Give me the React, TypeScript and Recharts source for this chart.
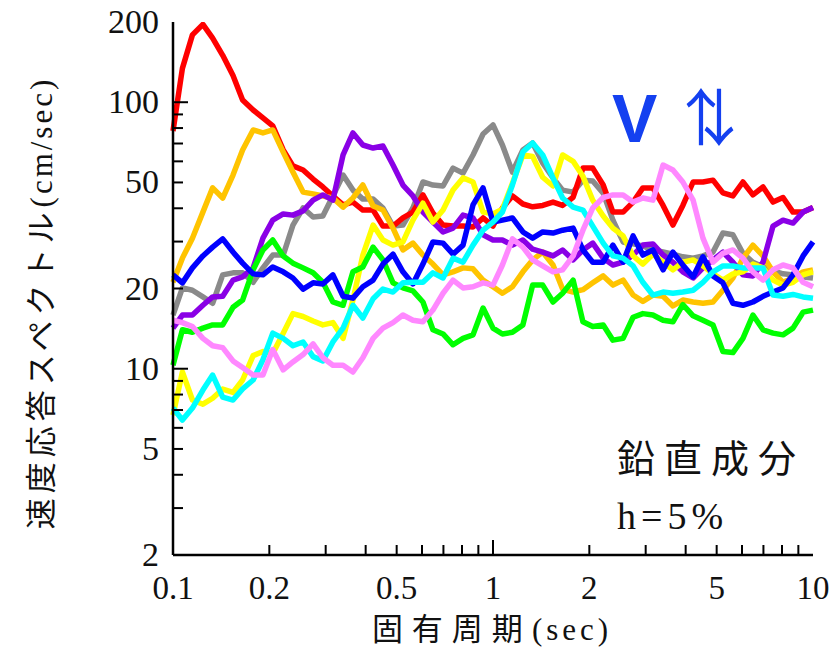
import React from 'react';
import { LineChart, Line, XAxis, YAxis } from 'recharts';

// natural period (sec), log spaced
const PERIODS = [
  0.1, 0.107, 0.115, 0.124, 0.133, 0.143, 0.154, 0.165, 0.178, 0.191,
  0.205, 0.221, 0.237, 0.255, 0.274, 0.294, 0.316, 0.34, 0.365, 0.392,
  0.422, 0.453, 0.487, 0.523, 0.562, 0.604, 0.649, 0.698, 0.75, 0.806,
  0.866, 0.931, 1, 1.07, 1.15, 1.24, 1.33, 1.43, 1.54, 1.65,
  1.78, 1.91, 2.05, 2.21, 2.37, 2.55, 2.74, 2.94, 3.16, 3.4,
  3.65, 3.92, 4.22, 4.53, 4.87, 5.23, 5.62, 6.04, 6.49, 6.98,
  7.5, 8.06, 8.66, 9.31, 10,
];

// velocity response (cm/sec), one array per record
const RED = [
  78, 134, 179, 196, 174, 150, 126, 102, 93.5, 87.3,
  81.5, 66.2, 57.7, 55.7, 51.5, 48.1, 44.5, 41.2, 42.2, 39.4,
  39.4, 34.3, 34.3, 36.8, 38.7, 44.9, 38.4, 34.6, 34.3, 34.3,
  34.0, 36.8, 34.3, 40.1, 44.5, 41.5, 40.5, 41, 42.2, 41,
  44, 56.6, 56.6, 48.9, 38.7, 38.7, 42.2, 47.7, 47.7, 41,
  34.6, 41, 50.2, 50.2, 51, 45.7, 44.5, 50.2, 44.9, 48.1,
  42.2, 43.9, 38.7, 38.7, 40.3,
];
const ORANGE = [
  21.1, 26.0, 30.9, 38.7, 47.7, 43.7, 53.3, 66.2, 78.7, 76.7,
  78.7, 65.0, 54.7, 46.0, 45.3, 44.5, 43.7, 40.4, 43.7, 48.9,
  40.8, 39.4, 33.7, 27.9, 29.6, 26.7, 24.7, 22.5, 23.1, 23.9,
  23.7, 21.5, 20.3, 19.2, 20.3, 23.1, 25.6, 27.4, 24.5, 19.9,
  19.4, 19.8, 21.0, 22.3, 20.6, 21.5, 18.9, 17.9, 18.9, 18.7,
  17.2, 18.1, 17.8, 17.6, 17.8, 19.7, 21.9, 26.0, 29.1, 26.5,
  23.1, 21.1, 21.9, 23.1, 23.5,
];
const GRAY = [
  15.9, 20.1, 19.7, 18.6, 17.6, 22.5, 22.9, 22.9, 21.1, 23.9,
  26.7, 26.7, 34.6, 40.1, 37.1, 37.4, 44.5, 53.3, 46.8, 43.3,
  43.3, 40.1, 34.3, 34.6, 40.1, 50.2, 48.9, 48.5, 56.6, 54.2,
  63.4, 76.0, 82.2, 69.1, 54.7, 66.2, 70.3, 59.2, 52.0, 46.8,
  46.0, 51.0, 50.6, 45.6, 36.1, 29.9, 29.4, 28.9, 27.9, 27.4,
  26.9, 26.3, 26.0, 26.5, 27.4, 32.3, 31.8, 27.1, 25.1, 24.1,
  23.3, 22.7, 22.5, 22.1, 21.9,
];
const PURPLE = [
  14.2, 15.9, 15.9, 17.3, 18.6, 18.7, 21.5, 22.1, 23.9, 30.9,
  36.1, 38.1, 37.7, 39.1, 42.9, 44.9, 42.9, 63.4, 76.7, 69.1,
  67.3, 68.5, 58.1, 48.9, 44.5, 38.7, 35.5, 32.6, 33.7, 37.7,
  36.8, 31.8, 30.4, 30.4, 29.1, 30.4, 28.1, 27.4, 26.5, 27.9,
  25.6, 27.9, 29.6, 26.0, 24.5, 25.1, 26.7, 29.1, 29.4, 26.7,
  25.1, 23.1, 21.9, 23.9, 25.6, 27.4, 25.1, 22.5, 22.3, 25.1,
  34.3, 36.1, 35.2, 38.7, 40.3,
];
const BLUE = [
  22.5, 21.0, 23.9, 26.5, 28.6, 30.7, 27.4, 24.9, 22.7, 22.5,
  24.1, 23.1, 21.9, 19.9, 21.0, 20.8, 22.5, 18.7, 18.4, 20.3,
  21.5, 24.7, 26.9, 23.1, 20.8, 24.7, 29.9, 29.6, 26.9, 29.1,
  41.2, 47.7, 35.5, 36.1, 36.8, 32.6, 30.9, 32.6, 32.3, 33.1,
  33.7, 27.9, 25.1, 25.1, 29.1, 25.1, 31.5, 26.7, 27.9, 23.5,
  27.4, 24.5, 22.1, 26.3, 22.3, 21.0, 17.6, 17.3, 17.8, 18.7,
  19.4, 20.1, 22.5, 26.5, 29.9,
];
const GREEN = [
  10.3, 14.0, 13.7, 14.2, 14.6, 14.6, 17.0, 18.1, 23.5, 27.9,
  30.4, 26.5, 24.9, 23.9, 22.9, 21.1, 17.8, 17.3, 23.1, 24.1,
  28.6, 25.6, 21.0, 20.1, 19.6, 17.8, 14.0, 13.5, 12.3, 13.0,
  13.4, 16.9, 14.2, 13.5, 13.7, 14.6, 20.6, 20.6, 17.8, 19.2,
  21.5, 15.0, 14.4, 14.6, 12.8, 13.0, 15.6, 16.1, 15.9, 15.2,
  15.0, 17.4, 15.8, 15.2, 14.6, 11.6, 11.5, 13.0, 15.9, 14.0,
  13.6, 13.4, 14.2, 16.3, 16.6,
];
const CYAN = [
  7.12, 6.42, 7.12, 8.32, 9.47, 7.83, 7.63, 8.4, 9.07, 10.8,
  13.6, 13.0, 12.2, 12.6, 11.1, 10.7, 12.6, 14.2, 17.3, 15.5,
  18.3, 19.9, 19.4, 21.0, 21.1, 21.1, 22.9, 21.9, 26.0, 25.1,
  29.1, 33.1, 35.5, 38.7, 48.9, 65.0, 70.3, 63.4, 52.0, 43.7,
  40.4, 39.4, 34.3, 29.6, 26.5, 26.0, 24.3, 21.1, 18.9, 19.4,
  19.2, 19.4, 19.7, 21.1, 23.1, 24.3, 24.3, 23.9, 23.9, 23.9,
  18.9, 18.7, 19.0, 18.6, 18.4,
];
const YELLOW = [
  6.7, 9.72, 7.63, 7.36, 7.75, 8.39, 8.15, 9.07, 11.2, 11.6,
  11.4, 13.6, 16.1, 15.7, 15.1, 14.6, 14.9, 13.0, 18.1, 26.7,
  34.6, 30.4, 29.1, 29.9, 36.1, 41.8, 35.5, 39.4, 46.8, 52.0,
  50.2, 38.7, 38.1, 39.7, 49.7, 63.4, 62.6, 52.3, 48.5, 63.4,
  60.0, 52.7, 42.9, 37.4, 33.7, 31.5, 26.5, 24.7, 26.9, 25.1,
  23.5, 25.1, 25.6, 24.3, 22.7, 21.5, 22.7, 23.1, 24.7, 23.9,
  21.5, 20.6, 21.1, 22.5, 23.1,
];
const PINK = [
  15.2, 14.9, 14.4, 13.0, 12.2, 12.0, 10.7, 10.1, 9.47, 9.47,
  11.8, 9.9, 10.6, 11.3, 12.4, 11.0, 10.3, 10.3, 9.72, 11.0,
  13.0, 14.2, 14.9, 15.9, 15.2, 15.0, 16.6, 19.2, 21.5, 20.1,
  20.3, 21.0, 20.6, 24.5, 30.7, 28.6, 25.6, 24.3, 23.1, 23.5,
  26.5, 33.1, 40.1, 43.9, 44.9, 44.9, 42.2, 43.7, 42.9, 58.1,
  55.7, 50.2, 42.9, 30.9, 25.1, 27.1, 27.9, 26.0, 23.1, 21.5,
  23.5, 24.5, 23.9, 21.1, 20.3,
];

const SERIES = [
  { key: 'gray', color: '#8a8a8a', values: GRAY },
  { key: 'red', color: '#ff0000', values: RED },
  { key: 'orange', color: '#ffc400', values: ORANGE },
  { key: 'purple', color: '#8a00e6', values: PURPLE },
  { key: 'yellow', color: '#ffff00', values: YELLOW },
  { key: 'green', color: '#00ff00', values: GREEN },
  { key: 'blue', color: '#0000ff', values: BLUE },
  { key: 'cyan', color: '#00ffff', values: CYAN },
  { key: 'pink', color: '#ff88ff', values: PINK },
];

const X_TICKS = [0.1, 0.2, 0.3, 0.4, 0.5, 0.6, 0.7, 0.8, 0.9, 1, 2, 3, 4, 5, 6, 7, 8, 9, 10];
const X_LABELS = [0.1, 0.2, 0.5, 1, 2, 5, 10];
const Y_TICKS = [2, 3, 4, 5, 6, 7, 8, 9, 10, 20, 30, 40, 50, 60, 70, 80, 90, 100, 200];
const Y_LABELS = [2, 5, 10, 20, 50, 100, 200];

const rows = PERIODS.map((period, i) => {
  const row: Record<string, number> = { period };
  SERIES.forEach(s => { row[s.key] = s.values[i]; });
  return row;
});

const SERIF = '"Liberation Serif", "DejaVu Serif", serif';
const CJK = '"Noto Sans CJK JP", sans-serif';
const BLUE_TEXT = '#1440f0';

const tickLen = (v: number, major: number[]) => (major.includes(v) ? 15 : 10);

const BottomTick = ({ x, y, payload }: any) => {
  const v = payload.value;
  const edge = v === 0.1 || v === 10;
  return (
    <g>
      {!edge && <line x1={x} x2={x} y1={y} y2={y - tickLen(v, [1])} stroke="#000" strokeWidth={2} />}
      {X_LABELS.includes(v) && (
        <text x={x} y={y + 44} textAnchor="middle" fontFamily={SERIF} fontSize={33} fill="#111">
          {String(v)}
        </text>
      )}
    </g>
  );
};

const TopTick = ({ x, y, payload }: any) => {
  const v = payload.value;
  if (v === 0.1 || v === 10) return null;
  return <line x1={x} x2={x} y1={y} y2={y + tickLen(v, [1])} stroke="#000" strokeWidth={2} />;
};

const LeftTick = ({ x, y, payload }: any) => {
  const v = payload.value;
  const edge = v === 2 || v === 200;
  return (
    <g>
      {!edge && <line x1={x} x2={x + tickLen(v, [10, 100])} y1={y} y2={y} stroke="#000" strokeWidth={2} />}
      {Y_LABELS.includes(v) && (
        <text x={x - 14} y={y + 11} textAnchor="end" fontFamily={SERIF} fontSize={34} fill="#111">
          {String(v)}
        </text>
      )}
    </g>
  );
};

const RightTick = ({ x, y, payload }: any) => {
  const v = payload.value;
  if (v === 2 || v === 200) return null;
  return <line x1={x} x2={x - tickLen(v, [10, 100])} y1={y} y2={y} stroke="#000" strokeWidth={2} />;
};

const axisLine = { stroke: '#000', strokeWidth: 2.5 };

export default function App() {
  return (
    <div style={{ position: 'absolute', left: 0, top: 0, background: '#fff' }}>
      <LineChart width={832} height={652} data={rows} margin={{ top: 22, right: 19, bottom: 0, left: 0 }}>
        <XAxis
          xAxisId="b"
          dataKey="period"
          type="number"
          scale="log"
          domain={[0.1, 10]}
          ticks={X_TICKS}
          interval={0}
          height={97}
          tickSize={0}
          tickMargin={0}
          tickLine={false}
          axisLine={axisLine}
          tick={<BottomTick />}
        />
        <XAxis
          xAxisId="t"
          orientation="top"
          dataKey="period"
          type="number"
          scale="log"
          domain={[0.1, 10]}
          ticks={X_TICKS}
          interval={0}
          height={0}
          tickSize={0}
          tickMargin={0}
          tickLine={false}
          axisLine={axisLine}
          tick={<TopTick />}
        />
        <YAxis
          yAxisId="l"
          type="number"
          scale="log"
          domain={[2, 200]}
          ticks={Y_TICKS}
          interval={0}
          width={173}
          tickSize={0}
          tickMargin={0}
          tickLine={false}
          axisLine={axisLine}
          tick={<LeftTick />}
          allowDataOverflow
        />
        <YAxis
          yAxisId="r"
          orientation="right"
          type="number"
          scale="log"
          domain={[2, 200]}
          ticks={Y_TICKS}
          interval={0}
          width={0}
          tickSize={0}
          tickMargin={0}
          tickLine={false}
          axisLine={axisLine}
          tick={<RightTick />}
          allowDataOverflow
        />
        {SERIES.map(s => (
          <Line
            key={s.key}
            xAxisId="b"
            yAxisId="l"
            dataKey={s.key}
            type="linear"
            stroke={s.color}
            strokeWidth={5.5}
            strokeLinejoin="round"
            dot={false}
            activeDot={false}
            isAnimationActive={false}
          />
        ))}
        <g>
          <text x={612} y={142} fontFamily='"Liberation Sans", sans-serif' fontWeight={700} fontSize={68} fill={BLUE_TEXT}>
            V
          </text>
          {/* up/down arrows, the down arrow tucked against the up one */}
          <text x={670} y={141} fontFamily={CJK} fontSize={62} letterSpacing={-44} fill={BLUE_TEXT}>
            ↑↓
          </text>
          <text x={617} y={472} fontFamily={CJK} fontSize={38} letterSpacing={9} fill="#111">
            鉛直成分
          </text>
          <text x={617} y={529} fontFamily={SERIF} fontSize={38} letterSpacing={5} fill="#111">
            h=5%
          </text>
          <text x={492} y={640} textAnchor="middle" fontSize={31} fill="#111">
            <tspan fontFamily={CJK} letterSpacing={9}>固有周期</tspan>
            <tspan fontFamily={SERIF} letterSpacing={4}>(sec)</tspan>
          </text>
          <text
            x={0}
            y={0}
            transform="translate(52, 303) rotate(-90)"
            textAnchor="middle"
            fontSize={31}
            fill="#111"
          >
            <tspan fontFamily={CJK} letterSpacing={5}>速度応答スペクトル</tspan>
            <tspan fontFamily={SERIF} letterSpacing={3}>(cm/sec)</tspan>
          </text>
        </g>
      </LineChart>
    </div>
  );
}
